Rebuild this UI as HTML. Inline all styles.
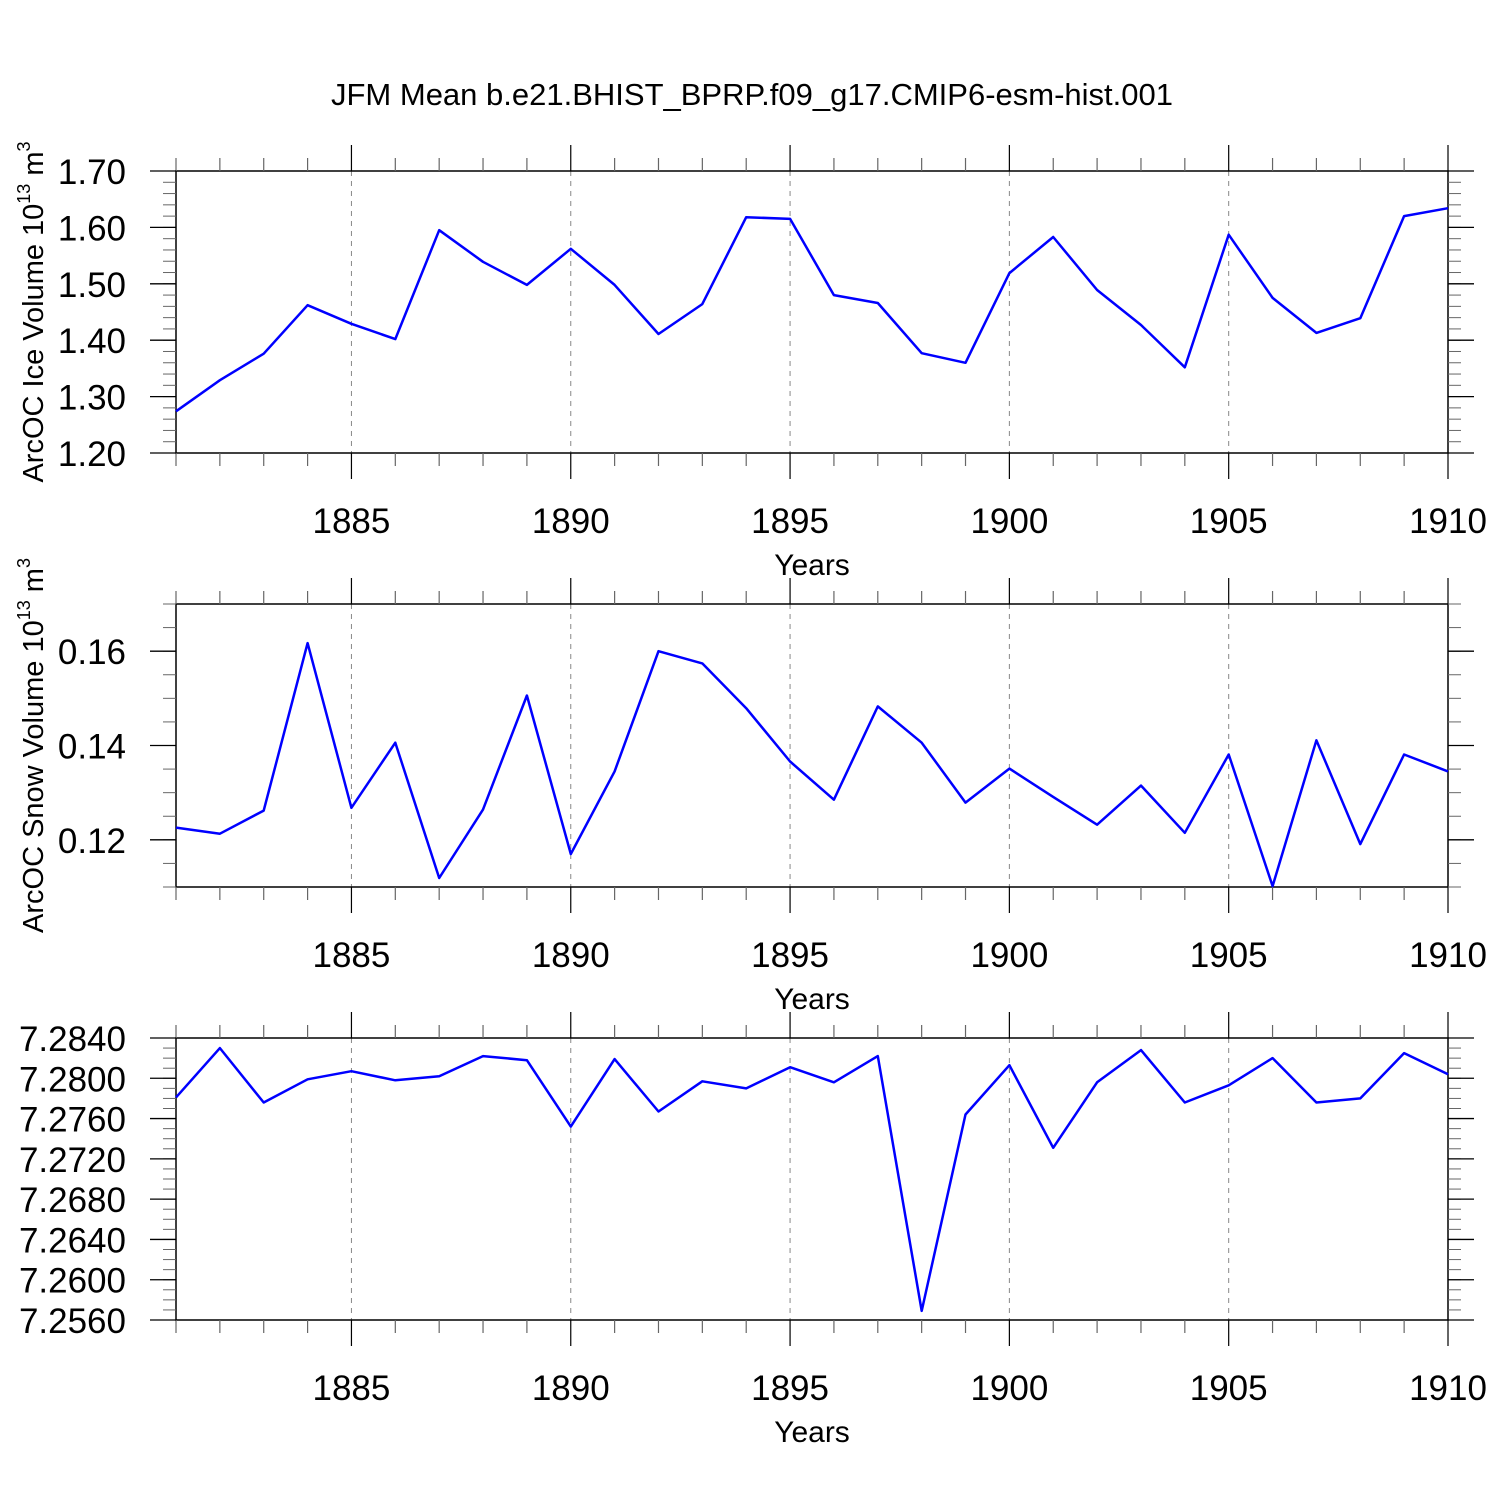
<!DOCTYPE html>
<html><head><meta charset="utf-8"><style>
html,body{margin:0;padding:0;background:#fff;}
svg{display:block;font-family:"Liberation Sans",sans-serif;}
</style></head><body>
<svg id="chart" width="1500" height="1500" viewBox="0 0 1500 1500" xmlns="http://www.w3.org/2000/svg">
<text x="752" y="105" font-size="31" text-anchor="middle">JFM Mean b.e21.BHIST_BPRP.f09_g17.CMIP6-esm-hist.001</text>
</svg>
<script>
const years = [1881,1882,1883,1884,1885,1886,1887,1888,1889,1890,1891,1892,1893,1894,1895,1896,1897,1898,1899,1900,1901,1902,1903,1904,1905,1906,1907,1908,1909,1910];
const iceVolume = [1.274,1.329,1.376,1.462,1.429,1.402,1.595,1.539,1.498,1.562,1.498,1.411,1.464,1.618,1.615,1.480,1.466,1.377,1.360,1.519,1.583,1.489,1.427,1.352,1.587,1.475,1.413,1.439,1.620,1.634];
const snowVolume = [0.1226,0.1213,0.1262,0.1617,0.1268,0.1406,0.1119,0.1264,0.1506,0.1170,0.1345,0.1600,0.1574,0.1479,0.1366,0.1285,0.1483,0.1406,0.1279,0.1351,0.1291,0.1232,0.1315,0.1215,0.1381,0.1102,0.1411,0.1191,0.1381,0.1345];
const thirdSeries = [7.2781,7.2830,7.2776,7.2799,7.2807,7.2798,7.2802,7.2822,7.2818,7.2752,7.2819,7.2767,7.2797,7.2790,7.2811,7.2796,7.2822,7.2569,7.2764,7.2813,7.2731,7.2796,7.2828,7.2776,7.2793,7.2820,7.2776,7.2780,7.2825,7.2804];
const xTickLabels = [1885,1890,1895,1900,1905,1910];
const iceTicks = ["1.20","1.30","1.40","1.50","1.60","1.70"];
const snowTicks = ["0.12","0.14","0.16"];
const thirdTicks = ["7.2560","7.2600","7.2640","7.2680","7.2720","7.2760","7.2800","7.2840"];

const NS = "http://www.w3.org/2000/svg";
const svg = document.getElementById('chart');
const X0 = 176, X1 = 1448, yMin = 1881, yMax = 1910;
function xs(y){ return X0 + (y - yMin) * (X1 - X0) / (yMax - yMin); }
function mk(tag, attrs, parent){
  const e = document.createElementNS(NS, tag);
  for (const k in attrs) e.setAttribute(k, attrs[k]);
  (parent || svg).appendChild(e);
  return e;
}
function panel(name, top, bot, vmin, vmax, minorStep, ticks, data, title){
  const g = mk('g', {});
  
  
  const ys = v => bot - (v - vmin) * (bot - top) / (vmax - vmin);
  xTickLabels.forEach(yr => {
    if (yr < yMax) {
      const l = mk('line', {x1: xs(yr), x2: xs(yr), y1: top, y2: bot, stroke: '#888', 'stroke-width': 1, 'stroke-dasharray': '5,5'}, g);
      
      
    }
  });
  const fr = mk('rect', {x: X0, y: top, width: X1 - X0, height: bot - top, fill: 'none', stroke: '#000', 'stroke-width': 1.5}, g);
  
  
  years.forEach(yr => {
    const major = xTickLabels.indexOf(yr) >= 0;
    const len = major ? 26 : 13;
    const c = major ? '#000' : '#666';
    mk('line', {x1: xs(yr), x2: xs(yr), y1: top - len, y2: top, stroke: c, 'stroke-width': 1.2}, g);
    mk('line', {x1: xs(yr), x2: xs(yr), y1: bot, y2: bot + len, stroke: c, 'stroke-width': 1.2}, g);
  });
  xTickLabels.forEach(yr => {
    const t = mk('text', {x: xs(yr), y: bot + 80, 'font-size': 35, 'text-anchor': 'middle'}, g);
    t.textContent = yr;
    
    
  });
  const xt = mk('text', {x: 812, y: bot + 122, 'font-size': 30, 'text-anchor': 'middle'}, g);
  xt.textContent = 'Years';
  
  
  const n = Math.round((vmax - vmin) / minorStep);
  for (let i = 0; i <= n; i++) {
    const yy = ys(vmin + i * minorStep);
    mk('line', {x1: X0 - 13, x2: X0, y1: yy, y2: yy, stroke: '#666', 'stroke-width': 1}, g);
    mk('line', {x1: X1, x2: X1 + 13, y1: yy, y2: yy, stroke: '#666', 'stroke-width': 1}, g);
  }
  ticks.forEach(s => {
    const yy = ys(parseFloat(s));
    mk('line', {x1: X0 - 26, x2: X0, y1: yy, y2: yy, stroke: '#000', 'stroke-width': 1.3}, g);
    mk('line', {x1: X1, x2: X1 + 26, y1: yy, y2: yy, stroke: '#000', 'stroke-width': 1.3}, g);
    const t = mk('text', {x: 126, y: yy + 13, 'font-size': 35, 'text-anchor': 'end'}, g);
    t.textContent = s;
    
    
  });
  if (title) {
    const cy = (top + bot) / 2;
    const t = mk('text', {x: 0, y: 0, 'font-size': 29, 'text-anchor': 'middle', transform: 'translate(43,' + cy + ') rotate(-90)'}, g);
    t.innerHTML = title + ' 10<tspan font-size="18" dy="-13">13</tspan><tspan dy="13"> m</tspan><tspan font-size="18" dy="-13">3</tspan>';
    
    
  }
  const pts = data.map((v, i) => xs(years[i]).toFixed(1) + ',' + ys(v).toFixed(1)).join(' ');
  const pl = mk('polyline', {points: pts, fill: 'none', stroke: '#0000ff', 'stroke-width': 2.5, 'stroke-linejoin': 'round'}, g);
  
  
}
panel('ice-volume', 171, 453, 1.20, 1.70, 0.02, iceTicks, iceVolume, 'ArcOC Ice Volume');
panel('snow-volume', 604, 887, 0.11, 0.17, 0.005, snowTicks, snowVolume, 'ArcOC Snow Volume');
panel('third', 1038, 1320, 7.2560, 7.2840, 0.001, thirdTicks, thirdSeries, null);
</script>
</body></html>
